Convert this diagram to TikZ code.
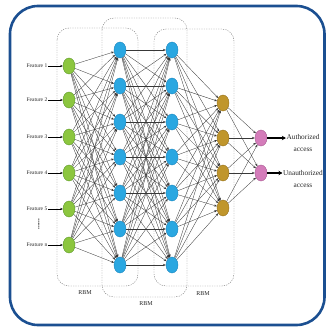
\documentclass[tikz,border=0pt]{standalone}
\usepackage{fontspec}
\setmainfont{Liberation Serif}
\usetikzlibrary{shapes.geometric,arrows.meta}
\definecolor{frameblue}{HTML}{1B4F91}
\definecolor{ngreen}{HTML}{8CC63F}
\definecolor{ngreenb}{HTML}{5E9A2A}
\definecolor{nblue}{HTML}{2AA7E1}
\definecolor{nblueb}{HTML}{1C86BE}
\definecolor{nbrown}{HTML}{C0962C}
\definecolor{nbrownb}{HTML}{94701C}
\definecolor{npink}{HTML}{D47CBA}
\definecolor{npinkb}{HTML}{A85A92}
\tikzset{
  neuron/.style={ellipse, draw, line width=0.4pt, minimum width=12pt, minimum height=16pt, inner sep=0pt},
  gn/.style={neuron, fill=ngreen, draw=ngreenb},
  bn/.style={neuron, fill=nblue, draw=nblueb},
  rn/.style={neuron, fill=nbrown, draw=nbrownb},
  pn/.style={neuron, fill=npink, draw=npinkb},
  conn/.style={draw=black!78, line width=0.33pt, -{Stealth[length=2.8pt,width=2.2pt]}},
  lbl/.style={font=\fontsize{5.5}{6.5}\selectfont, inner sep=0.5pt, text=black!85},
  rbmlbl/.style={font=\fontsize{6}{7}\selectfont, inner sep=0.5pt, text=black!85},
  outlbl/.style={font=\fontsize{7.3}{12}\selectfont, align=center, inner sep=0.5pt, text=black!85},
  rbmbox/.style={draw=black!55, line width=0.4pt, dash pattern=on 1.2pt off 1.2pt, rounded corners=12pt},
  featarrow/.style={draw=black, line width=0.45pt, -{Stealth[length=2.6pt,width=2.2pt]}},
  bigarrow/.style={draw=black, line width=2pt, -{Stealth[length=4pt,width=4.5pt]}}
}
\begin{document}
\begin{tikzpicture}[x=1pt,y=-1pt]
\useasboundingbox (0,0) rectangle (326,329);
\draw[frameblue, line width=2.6pt, rounded corners=28pt] (10,6) rectangle (324.5,325);
% RBM boxes
\draw[rbmbox] (57,28) rectangle (138,286);
\draw[rbmbox] (102,18) rectangle (187,297);
\draw[rbmbox] (154,29) rectangle (234,286);
\node[rbmlbl] (r1) at (85,293) {RBM};
\node[rbmlbl] (r2) at (146,304) {RBM};
\node[rbmlbl] (r3) at (203,294) {RBM};
% neurons
\foreach \y [count=\i] in {66,100,137,173,209,245} \node[gn] (g\i) at (69,\y) {};
\foreach \y [count=\i] in {50,86,122,157,193,229,265} \node[bn] (a\i) at (120,\y) {};
\foreach \y [count=\i] in {50,86,122,157,193,229,265} \node[bn] (b\i) at (172,\y) {};
\foreach \y [count=\i] in {103,138,173,208} \node[rn] (c\i) at (223,\y) {};
\foreach \y [count=\i] in {138,173} \node[pn] (p\i) at (261,\y) {};
% features
\foreach \y/\t [count=\i] in {66/Feature 1,100/Feature 2,137/Feature 3,173/Feature 4,209/Feature 5,245/Feature n}
  {\node[lbl, anchor=east] (f\i) at (48,\y) {\t};
   \draw[featarrow] (f\i) -- (g\i);}
\node[font=\fontsize{7}{8}\selectfont\bfseries, rotate=90, inner sep=0pt] (dots) at (39,224) {......};
% connections
\foreach \i in {1,...,6} \foreach \j in {1,...,7} \draw[conn] (g\i) -- (a\j);
\foreach \i in {1,...,7} \foreach \j in {1,...,7} \draw[conn] (a\i) -- (b\j);
\foreach \i in {1,...,7} \foreach \j in {1,...,4} \draw[conn] (b\i) -- (c\j);
\foreach \i in {1,...,4} \foreach \j in {1,2} \draw[conn] (c\i) -- (p\j);
% outputs
\node[outlbl] (o1) at (303,143) {Authorized\\access};
\node[outlbl] (o2) at (303,179) {Unauthorized\\access};
\draw[bigarrow] (p1) -- (p1 -| o1.west);
\draw[bigarrow] (p2) -- (p2 -| o2.west);
\end{tikzpicture}
\end{document}
